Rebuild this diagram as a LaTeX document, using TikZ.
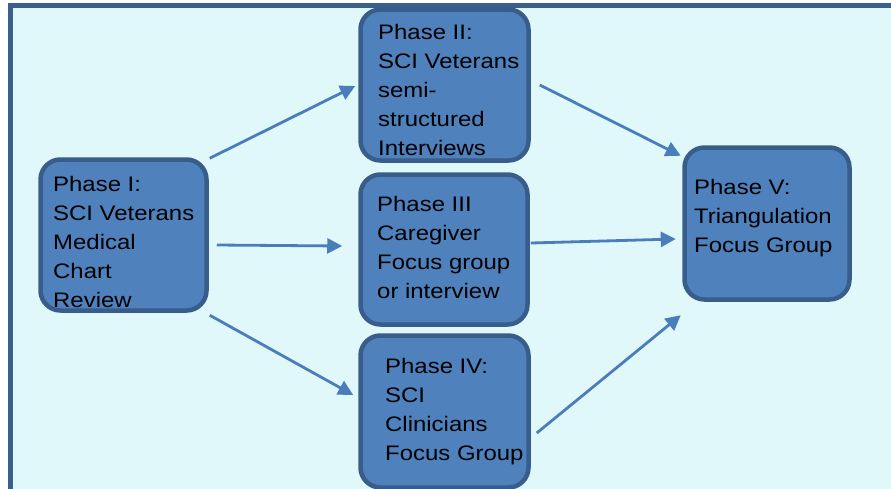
\documentclass[tikz,border=0pt]{standalone}
\usepackage{fontspec}
\setmainfont{Liberation Sans}[FakeStretch=1.14]
\usetikzlibrary{arrows.meta,calc}
\definecolor{panelfill}{RGB}{224,248,250}
\definecolor{panelline}{RGB}{59,95,142}
\definecolor{boxfill}{RGB}{79,129,189}
\definecolor{boxline}{RGB}{56,93,138}
\definecolor{arrowcol}{RGB}{74,126,187}
\tikzset{
  phasebox/.style={draw=boxline, fill=boxfill, line width=4.5pt, rounded corners=20pt,
    minimum width=167pt, minimum height=151pt, inner sep=0pt},
  % anchored at the baseline of the last line of the text
  phasetext/.style={inner sep=0pt, anchor=base west, align=left, text=black,
    font=\fontsize{21}{28.8}\selectfont},
  flow/.style={draw=arrowcol, line width=2.8pt, -{Triangle[length=15pt,width=15pt]}}
}
\begin{document}
\begin{tikzpicture}[x=1pt,y=-1pt]
  \useasboundingbox (0,0) rectangle (891,488);
  % background panel
  \draw[panelline, fill=panelfill, line width=5pt] (10,5.5) rectangle (905,505);

  % phase boxes
  \node[phasebox, minimum width=166pt] (p1) at (123.5,235) {};
  \node[phasebox, minimum width=168pt] (p2) at (444.5,85) {};
  \node[phasebox, minimum height=150pt] (p3) at (444,249.5) {};
  \node[phasebox, minimum width=168pt, minimum height=152pt] (p4) at (444.5,411.5) {};
  \node[phasebox, minimum width=165pt, minimum height=152pt] (p5) at (767,223.5) {};

  % box texts
  \node[phasetext] (t1) at (53,307) {Phase I:\\SCI Veterans\\Medical\\Chart\\Review};
  \node[phasetext] (t2) at (378,155) {Phase II:\\SCI Veterans\\semi-\\structured\\Interviews};
  \node[phasetext] (t3) at (377,298) {Phase III\\Caregiver\\Focus group\\or interview};
  \node[phasetext] (t4) at (385,460) {Phase IV:\\SCI\\Clinicians\\Focus Group};
  \node[phasetext] (t5) at (694,252) {Phase V:\\Triangulation\\Focus Group};

  % connectors
  \draw[flow] ($(p1.north east)+(1,1)$) -- ($(p2.west)+(-3,1)$);
  \draw[flow] ($(p1.east)+(8,10)$) -- ($(p3.west)+(-16,-3.5)$);
  \draw[flow] ($(p1.south east)+(1,2.5)$) -- ($(p4.west)+(-5,-16.5)$);
  \draw[flow] ($(p2.east)+(9,0)$) -- ($(p5.north west)+(-1.5,10.5)$);
  \draw[flow] ($(p3.east)+(1,-6.5)$) -- ($(p5.west)+(-6.5,15.5)$);
  \draw[flow] ($(p4.east)+(6,21.5)$) -- ($(p5.south west)+(-1.5,13.5)$);
\end{tikzpicture}
\end{document}
